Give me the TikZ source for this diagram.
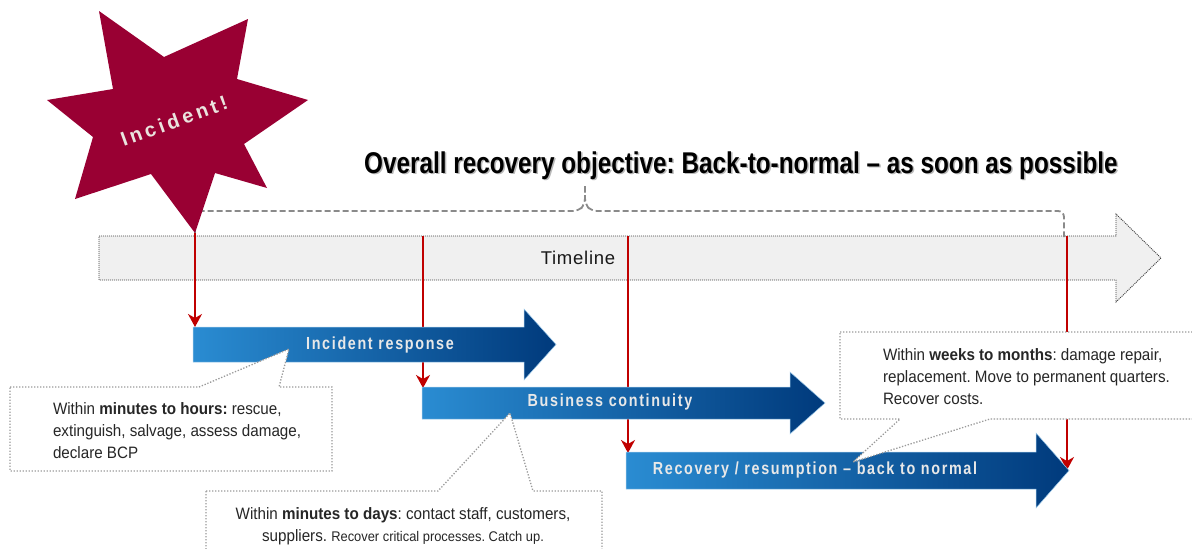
\documentclass[tikz,border=0pt]{standalone}
\usepackage{fontspec}
\setmainfont{Liberation Sans}
\newfontfamily\narrowfont[FakeStretch=0.92]{Liberation Sans}
\newfontfamily\titlefont[FakeStretch=0.81]{Liberation Sans}
\newfontfamily\barfont[FakeStretch=0.82,LetterSpace=9.5]{Liberation Sans}
\newfontfamily\starfont[LetterSpace=18]{Liberation Sans}
\newfontfamily\tlfont[LetterSpace=4]{Liberation Sans}
\usetikzlibrary{arrows.meta}
\definecolor{starred}{HTML}{990033}
\definecolor{bluel}{HTML}{2A8CD2}
\definecolor{blued}{HTML}{003A7C}
\definecolor{redline}{HTML}{C00000}
\definecolor{tlfill}{HTML}{F0F0F0}
\definecolor{dotgray}{HTML}{9A9A9A}
\definecolor{labelgray}{HTML}{E8E8E8}
\definecolor{startext}{HTML}{EAE4DE}
\definecolor{textdark}{HTML}{262626}
\definecolor{bracegray}{HTML}{8A8A8A}
\frenchspacing
\begin{document}
\begin{tikzpicture}[x=1pt,y=-1pt,
  every node/.style={inner sep=0pt, outer sep=0pt},
  redarrow/.style={draw=redline, line width=1.4pt, -{Stealth[length=13pt,width=14pt,inset=4pt]}},
  bluebar/.style={shade, left color=bluel, right color=blued, draw=bluel!45!white, line width=0.5pt},
  barlabel/.style={text=labelgray, font=\barfont\bfseries\fontsize{17.5}{20}\selectfont, anchor=base},
  callout/.style={fill=white, draw=dotgray, line width=1.3pt, dash pattern=on 1.3pt off 1.7pt},
  calltext/.style={text=textdark, font=\narrowfont\fontsize{16.5}{22}\selectfont},
  bracestyle/.style={draw=bracegray, line width=1.8pt, dash pattern=on 6pt off 3pt, rounded corners=6pt},
  timelinebox/.style={fill=tlfill, draw=black!75, line width=0.9pt, dash pattern=on 1pt off 1pt}
]
\useasboundingbox (0,0) rectangle (1192,549);
\clip (0,0) rectangle (1192,549);

% Timeline arrow
\path[timelinebox] (99,236) -- (1116,236) -- (1116,214) -- (1161,258) -- (1116,302) -- (1116,280) -- (99,280) -- cycle;
\node[text=black!90, font=\tlfont\fontsize{18.5}{22}\selectfont, anchor=base] (tl) at (578,264) {Timeline};

% overall brace
\path[bracestyle] (195,237) -- (195,211) -- (579,211) -- (585,204) -- (585,186);
\path[bracestyle] (585,186) -- (585,204) -- (591,211) -- (1064,211) -- (1064,237);

% title
\node[text=gray!55, font=\titlefont\bfseries\fontsize{30}{36}\selectfont, anchor=base] (titleshadow) at (742.5,174.5) {Overall recovery objective: Back-to-normal – as soon as possible};
\node[text=black, font=\titlefont\bfseries\fontsize{30}{36}\selectfont, anchor=base] (title) at (741,173) {Overall recovery objective: Back-to-normal – as soon as possible};

% red connectors
\coordinate (s1) at (195,233); \coordinate (e1) at (195,327);
\coordinate (s2) at (423,236); \coordinate (e2) at (423,388);
\coordinate (s3) at (628,236); \coordinate (e3) at (628,453);
\coordinate (s4) at (1067,236); \coordinate (e4) at (1067,470);
\draw[redarrow] (s1) -- (e1);
\draw[redarrow] (s2) -- (e2);
\draw[redarrow] (s3) -- (e3);
\draw[redarrow] (s4) -- (e4);

% blue phase arrows
\path[bluebar] (193,327) -- (524,327) -- (524,309) -- (556,344.5) -- (524,380) -- (524,362) -- (193,362) -- cycle;
\node[barlabel] (ir) at (380,349) {Incident response};
\path[bluebar] (422,387) -- (790,387) -- (790,372) -- (825,403) -- (790,434) -- (790,419) -- (422,419) -- cycle;
\node[barlabel] (bc) at (610,406) {Business continuity};
\path[bluebar] (626,452) -- (1036,452) -- (1036,433) -- (1069,470.5) -- (1036,508) -- (1036,489) -- (626,489) -- cycle;
\node[barlabel] (rec) at (815,474.5) {Recovery / resumption – back to normal};

% star
\fill[starred] (99,11) -- (164,57) -- (248,19) -- (237,79) -- (308,100) -- (244,144) -- (267,188) -- (215,173) -- (195,233) -- (151,174) -- (75,199) -- (93,137) -- (47,100) -- (113,89) -- cycle;
\node[rotate=20, text=startext, font=\starfont\bfseries\fontsize{20}{24}\selectfont] (inc) at (174,121) {Incident!};

% callouts
\path[callout] (10,387) -- (199,387) -- (289,349) -- (279,387) -- (332,387) -- (332,471) -- (10,471) -- cycle;
\node[calltext, anchor=west, align=left] (c1) at (53,431) {Within \textbf{minutes to hours:} rescue,\\extinguish, salvage, assess damage,\\declare BCP};

\path[callout] (206,491) -- (438,491) -- (510,413) -- (533,491) -- (602,491) -- (602,570) -- (206,570) -- cycle;
\node[calltext, anchor=center, align=center] (c2) at (403,526) {Within \textbf{minutes to days}: contact staff, customers,\\suppliers. {\fontsize{14}{22}\selectfont Recover critical processes. Catch up.}};

\path[callout] (840,332) -- (1210,332) -- (1210,419) -- (990,419) -- (853,462) -- (900,419) -- (840,419) -- cycle;
\node[calltext, anchor=west, align=left] (c3) at (883,376.5) {Within \textbf{weeks to months}: damage repair,\\replacement. Move to permanent quarters.\\Recover costs.};
\end{tikzpicture}
\end{document}
